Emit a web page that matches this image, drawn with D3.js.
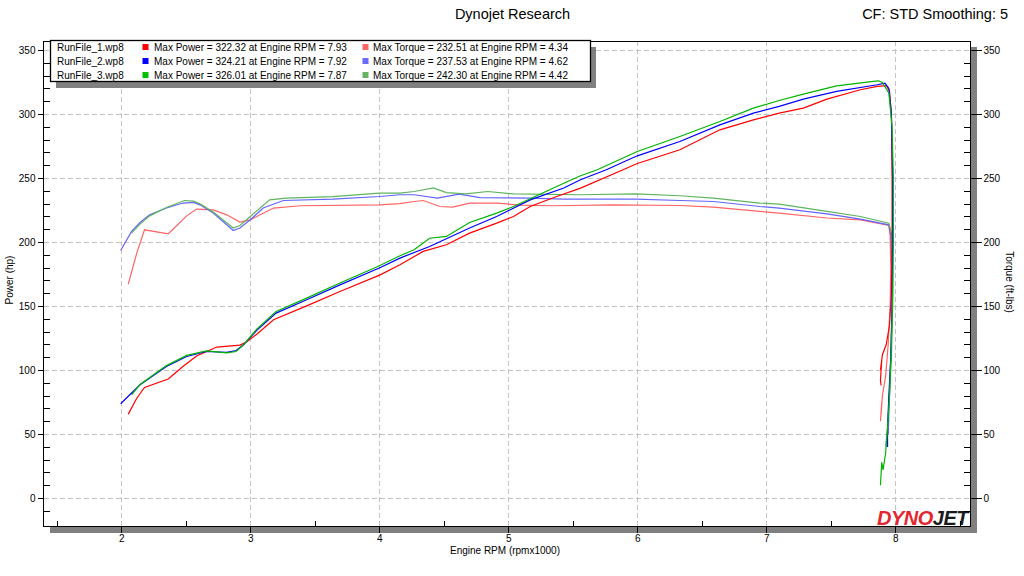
<!DOCTYPE html>
<html>
<head>
<meta charset="utf-8">
<script src="https://cdn.jsdelivr.net/npm/d3@7"></script>
<style>
  html, body { margin: 0; padding: 0; background: #fff; }
  svg { display: block; }
  text { font-family: "Liberation Sans", Arial, sans-serif; }
</style>
</head>
<body>
<svg id="chart" width="1024" height="576"></svg>
<script>
// ---------------- DATA ----------------
const runNames = ["RunFile_1.wp8", "RunFile_2.wp8", "RunFile_3.wp8"];
const maxPower = [322.32, 324.21, 326.01];
const maxPowerRpm = [7.93, 7.92, 7.87];
const maxTorque = [232.51, 237.53, 242.30];
const maxTorqueRpm = [4.34, 4.62, 4.42];

const xTicks = [2, 3, 4, 5, 6, 7, 8];
const xMinorTicks = [1.5, 2.5, 3.5, 4.5, 5.5, 6.5, 7.5, 8.5];
const yTicks = [0, 50, 100, 150, 200, 250, 300, 350];
const yMinorTicks = [-10, 10, 20, 30, 40, 60, 70, 80, 90, 110, 120, 130, 140, 160, 170, 180, 190,
  210, 220, 230, 240, 260, 270, 280, 290, 310, 320, 330, 340];

// [rpm x1000, hp]
const power1 = [[2.054,65.6],[2.12,78],[2.18,86.4],[2.364,93],[2.48,103],[2.584,111],[2.74,118],[2.92,119.5],
  [2.97,122],[3.05,128],[3.18,139.3],[3.437,150.2],[3.695,161.4],[4.007,174.4],[4.16,182.3],[4.34,192.7],
  [4.52,197.9],[4.70,207],[4.91,214.8],[5.04,220],[5.17,227.8],[5.375,235.6],[5.56,242.2],[5.89,256.5],
  [5.995,261.2],[6.33,272.1],[6.64,287.7],[6.9,295.5],[7.1,300.8],[7.287,304.7],[7.47,311.7],[7.73,319],
  [7.86,321.6],[7.93,322.3],[7.955,318],[7.97,300],[7.975,250],[7.975,200],[7.97,160],[7.955,135],
  [7.93,120],[7.9,112],[7.885,100],[7.895,108],[7.885,92],[7.89,88]];
const power2 = [[1.995,73.7],[2.145,88.5],[2.35,102.8],[2.507,110.6],[2.66,114.5],[2.817,113.8],[2.89,115.3],
  [2.95,120],[3.05,131],[3.2,144.5],[3.437,155],[3.695,166.6],[4.0,179.7],[4.16,187.5],[4.39,196.6],
  [4.70,211],[4.91,220],[5.17,233],[5.43,242.2],[5.56,248.7],[5.76,256.5],[6.0,267.4],[6.33,278.6],
  [6.64,291.6],[6.9,300.8],[7.1,306],[7.287,311.7],[7.545,317.7],[7.86,322.9],[7.92,324.2],[7.95,320],
  [7.97,300],[7.98,250],[7.98,200],[7.975,150],[7.965,110],[7.95,80],[7.94,55],[7.94,40]];
const power3 = [[2.08,80.7],[2.145,88.8],[2.35,103.5],[2.507,111.5],[2.66,115],[2.817,113.5],[2.89,114.5],
  [2.95,120],[3.05,132],[3.2,145.8],[3.437,156.2],[3.695,168],[3.98,180.5],[4.16,189.3],[4.27,194],
  [4.39,203],[4.52,204.4],[4.70,215.3],[4.91,222.6],[5.04,227.8],[5.43,246],[5.56,251.8],[5.69,256.5],
  [6.0,270.8],[6.33,282.5],[6.64,294.2],[6.9,304.7],[7.1,310.6],[7.287,315.6],[7.545,322],[7.83,325.5],
  [7.87,326],[7.9,324.7],[7.95,316.5],[7.975,290],[7.985,250],[7.985,200],[7.98,160],[7.97,120],
  [7.955,80],[7.94,55],[7.925,35],[7.905,22],[7.895,28],[7.885,10]];

// [rpm x1000, ft-lbs]
const torque1 = [[2.054,167.2],[2.12,191.4],[2.18,209.6],[2.364,206.5],[2.507,220.5],[2.584,225.8],[2.713,225.2],
  [2.817,221.3],[2.92,215.6],[3.0,217.4],[3.18,226.6],[3.385,228.4],[4.0,229.1],[4.16,230],[4.27,231.7],
  [4.34,232.5],[4.47,227.8],[4.57,227.3],[4.70,230.5],[4.91,230.5],[5.09,228.9],[5.35,228.4],[5.81,229.1],
  [6.33,228.6],[6.59,227.3],[6.95,224],[7.1,222.7],[7.47,218.8],[7.73,217.4],[7.95,213],[7.96,205],
  [7.965,180],[7.96,150],[7.945,120],[7.925,95],[7.9,80],[7.89,65],[7.895,75],[7.885,60]];
const torque2 = [[1.995,193.4],[2.08,208.3],[2.145,215.3],[2.22,221.3],[2.35,226.6],[2.48,230.5],[2.56,231],
  [2.61,229.1],[2.713,222.7],[2.868,209],[2.92,211],[3.0,217.4],[3.1,226.6],[3.256,232.5],[3.64,233.6],
  [4.0,235.6],[4.16,237],[4.27,237],[4.45,234.4],[4.62,237.5],[4.78,234.8],[5.17,234.4],[5.43,233.6],
  [5.99,233.6],[6.33,232.5],[6.59,231.7],[6.95,227.8],[7.1,226.6],[7.47,222.1],[7.73,218],[7.95,213.5],
  [7.965,205],[7.975,180],[7.975,150],[7.965,110],[7.955,80],[7.945,50]];
const torque3 = [[2.08,207],[2.145,214],[2.22,220.5],[2.35,227],[2.49,232.5],[2.56,232],[2.61,230],[2.713,223.5],
  [2.868,211],[2.92,213],[3.0,220],[3.15,233],[3.28,234.4],[3.64,235.5],[4.0,238.3],[4.16,238.3],[4.27,239.5],
  [4.42,242.3],[4.52,238.7],[4.67,237.7],[4.84,239.5],[5.04,237.7],[5.56,237],[5.99,237.7],[6.33,236.2],
  [6.59,234.4],[6.95,230.5],[7.1,229.7],[7.47,224],[7.73,220],[7.95,214.8],[7.97,207],[7.98,180],
  [7.98,150],[7.97,110],[7.955,80],[7.94,55],[7.925,40]];

const powerColors = ["#ff0000", "#0000ff", "#00b400"];
const torqueColors = ["#ff6464", "#6464ff", "#5fb45f"];
const legendPowerColors = ["#ff0000", "#0000ff", "#00c000"];
const legendTorqueColors = ["#ff6666", "#6b6bff", "#66b366"];

// ---------------- LAYOUT ----------------
const L = 43.5, R = 970.5, T = 41, B = 526.5;
const svg = d3.select("#chart");
const x = d3.scaleLinear().domain([1.397, 8.583]).range([L, R]);
const y = d3.scaleLinear().domain([-22.2, 357.1]).range([B, T]);

// Shadow of plot
svg.append("rect").attr("x", R).attr("y", T + 6).attr("width", 6.5).attr("height", B - T).attr("fill", "#808080");
svg.append("rect").attr("x", L + 6.5).attr("y", B).attr("width", R - L).attr("height", 6.5).attr("fill", "#808080");
svg.append("rect").attr("x", L).attr("y", T).attr("width", R - L).attr("height", B - T).attr("fill", "#fff");

// Grid
const grid = svg.append("g").attr("stroke", "#c3c3c3").attr("stroke-dasharray", "5,3").attr("shape-rendering", "crispEdges");
grid.selectAll(".gx").data(xTicks).join("line")
  .attr("x1", d => Math.round(x(d)) + 0.5).attr("x2", d => Math.round(x(d)) + 0.5)
  .attr("y1", T).attr("y2", B);
grid.selectAll(".gy").data(yTicks).join("line")
  .attr("y1", d => Math.round(y(d)) + 0.5).attr("y2", d => Math.round(y(d)) + 0.5)
  .attr("x1", L).attr("x2", R);

// Lines
const clip = svg.append("clipPath").attr("id", "clip").append("rect")
  .attr("x", L).attr("y", T).attr("width", R - L).attr("height", B - T);
const line = d3.line().x(d => x(d[0])).y(d => y(d[1]));
const lines = svg.append("g").attr("clip-path", "url(#clip)").attr("fill", "none").attr("stroke-width", 1.2);
const torques = [torque1, torque2, torque3];
const powers = [power1, power2, power3];
torques.forEach((t, i) => lines.append("path").attr("d", line(t)).attr("stroke", torqueColors[i]));
powers.forEach((p, i) => lines.append("path").attr("d", line(p)).attr("stroke", powerColors[i]));

// Logo
const logo = svg.append("text").attr("x", 968).attr("y", 525)
  .attr("text-anchor", "end").attr("font-size", 20).attr("font-weight", 900).attr("font-style", "italic")
  .attr("letter-spacing", -0.5);
logo.append("tspan").attr("fill", "#e52630").text("DYNO");
logo.append("tspan").attr("fill", "#1b1b1b").text("JET");

// Axes
function styleAxis(g) {
  g.select(".domain").remove();
  g.selectAll("line").attr("stroke", "#000").attr("shape-rendering", "crispEdges");
  g.selectAll("text").attr("fill", "#000").attr("font-size", 10).attr("font-family", "Liberation Sans, Arial, sans-serif");
}
svg.append("g").attr("transform", `translate(${L},0)`)
  .call(d3.axisLeft(y).tickValues(yTicks).tickSize(6).tickPadding(2).tickFormat(d3.format("d"))).call(styleAxis);
svg.append("g").attr("transform", `translate(${L},0)`)
  .call(d3.axisLeft(y).tickValues(yMinorTicks).tickSize(-6).tickFormat("")).call(styleAxis);
svg.append("g").attr("transform", `translate(${R},0)`)
  .call(d3.axisRight(y).tickValues(yTicks).tickSize(11).tickPadding(2).tickFormat(d3.format("d"))).call(styleAxis);
svg.append("g").attr("transform", `translate(${R},0)`)
  .call(d3.axisRight(y).tickValues(yMinorTicks).tickSize(-7).tickFormat("")).call(styleAxis);
svg.append("g").attr("transform", `translate(0,${B})`)
  .call(d3.axisBottom(x).tickValues(xTicks).tickSize(6).tickPadding(2).tickFormat(d3.format("d"))).call(styleAxis);
svg.append("g").attr("transform", `translate(0,${B})`)
  .call(d3.axisBottom(x).tickValues(xMinorTicks).tickSize(-6).tickFormat("")).call(styleAxis);

// Frame
svg.append("rect").attr("x", L).attr("y", T).attr("width", R - L).attr("height", B - T)
  .attr("fill", "none").attr("stroke", "#000").attr("shape-rendering", "crispEdges");

// Titles
svg.append("text").attr("x", 512.5).attr("y", 19).attr("text-anchor", "middle").attr("font-size", 14.5).text("Dynojet Research");
svg.append("text").attr("x", 1008).attr("y", 19).attr("text-anchor", "end").attr("font-size", 14.5).text("CF: STD Smoothing: 5");
svg.append("text").attr("x", 505).attr("y", 554).attr("text-anchor", "middle").attr("font-size", 10).text("Engine RPM (rpmx1000)");
svg.append("text").attr("transform", "translate(13,280) rotate(-90)").attr("text-anchor", "middle").attr("font-size", 10).text("Power (hp)");
svg.append("text").attr("transform", "translate(1006,282) rotate(90)").attr("text-anchor", "middle").attr("font-size", 10).text("Torque (ft-lbs)");

// Legend
const lg = svg.append("g");
lg.append("rect").attr("x", 56).attr("y", 47).attr("width", 540).attr("height", 41).attr("fill", "#808080");
lg.append("rect").attr("x", 50.5).attr("y", 40.5).attr("width", 540).attr("height", 41)
  .attr("fill", "#fff").attr("stroke", "#000").attr("stroke-width", 1.3);
const rowY = [47, 61, 75];
runNames.forEach((name, i) => {
  const cy = rowY[i];
  lg.append("text").attr("x", 57).attr("y", cy + 3.6).attr("font-size", 10).text(name);
  lg.append("rect").attr("x", 142.5).attr("y", cy - 3).attr("width", 6).attr("height", 6).attr("fill", legendPowerColors[i]);
  lg.append("text").attr("x", 154).attr("y", cy + 3.6).attr("font-size", 10)
    .text(`Max Power = ${maxPower[i].toFixed(2)} at Engine RPM = ${maxPowerRpm[i].toFixed(2)}`);
  lg.append("rect").attr("x", 362.5).attr("y", cy - 3).attr("width", 6).attr("height", 6).attr("fill", legendTorqueColors[i]);
  lg.append("text").attr("x", 373).attr("y", cy + 3.6).attr("font-size", 10)
    .text(`Max Torque = ${maxTorque[i].toFixed(2)} at Engine RPM = ${maxTorqueRpm[i].toFixed(2)}`);
});
</script>
</body>
</html>
